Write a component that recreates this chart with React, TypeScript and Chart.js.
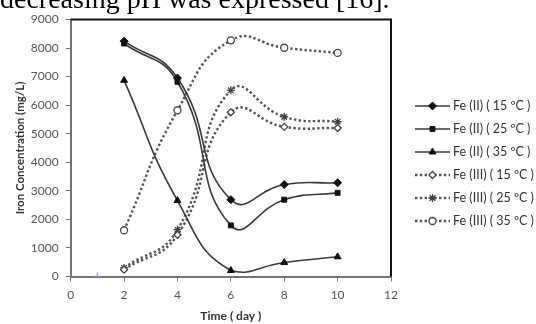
import React, { useEffect, useRef } from 'react';
import { Chart, registerables } from 'chart.js';
import { drawPoint } from 'chart.js/helpers';

Chart.register(...registerables);

// ---- data ----
const days = [2, 4, 6, 8, 10];
const fe2_15 = [8240, 6950, 2690, 3220, 3280];
const fe2_25 = [8160, 6820, 1790, 2690, 2930];
const fe2_35 = [6870, 2660, 210, 490, 690];
const fe3_15 = [240, 1460, 5750, 5240, 5200];
const fe3_25 = [300, 1640, 6520, 5590, 5420];
const fe3_35 = [1620, 5820, 8270, 8010, 7830];
const seriesLabels = [
  'Fe (II) ( 15 ºC )',
  'Fe (II) ( 25 ºC )',
  'Fe (II) ( 35 ºC )',
  'Fe (III) ( 15 ºC )',
  'Fe (III) ( 25 ºC )',
  'Fe (III) ( 35 ºC )',
];
const xTitle = 'Time ( day )';
const yTitle = 'Iron Concentration (mg/L)';
const headerText = 'decreasing pH was expressed [16].';
const blueMarkX = [1];
const blueMarkY = [0];

const FONT = 'Lato, "Open Sans", sans-serif';

const toPts = (vals: number[]) => vals.map((v, i) => ({ x: days[i], y: v }));

const legendPlugin = {
  id: 'customLegend',
  afterDraw(chart: any) {
    const { ctx, chartArea } = chart;
    ctx.save();
    let row = 0;
    chart.data.datasets.forEach((ds: any) => {
      if (ds.hideInLegend) return;
      const y = 106 + row * 23;
      row++;
      const x0 = chartArea.right + 24;
      const x1 = x0 + 35;
      ctx.strokeStyle = ds.borderColor;
      ctx.lineWidth = ds.borderWidth;
      ctx.setLineDash(ds.borderDash || []);
      ctx.beginPath();
      ctx.moveTo(x0, y);
      ctx.lineTo(x1, y);
      ctx.stroke();
      ctx.setLineDash([]);
      ctx.fillStyle = ds.pointBackgroundColor;
      ctx.strokeStyle = ds.pointBorderColor;
      ctx.lineWidth = ds.pointBorderWidth;
      drawPoint(ctx, {
        pointStyle: ds.pointStyle,
        radius: ds.pointRadius,
        rotation: 0,
        borderWidth: ds.pointBorderWidth,
      } as any, (x0 + x1) / 2, y);
      ctx.font = '12.5px ' + FONT;
      ctx.fillStyle = '#333';
      ctx.textAlign = 'left';
      ctx.textBaseline = 'middle';
      ctx.fillText(ds.label, x1 + 3, y);
    });
    ctx.restore();
  },
};

const framePlugin = {
  id: 'frame',
  beforeDatasetsDraw(chart: any) {
    const { ctx, chartArea } = chart;
    ctx.save();
    ctx.strokeStyle = '#111';
    ctx.lineWidth = 2;
    ctx.beginPath();
    ctx.moveTo(chartArea.left, chartArea.top);
    ctx.lineTo(chartArea.right, chartArea.top);
    ctx.lineTo(chartArea.right, chartArea.bottom);
    ctx.stroke();
    ctx.restore();
  },
};

export default function App() {
  const ref = useRef<HTMLCanvasElement | null>(null);

  useEffect(() => {
    if (!ref.current) return;
    const solid = (label: string, vals: number[], style: string, r: number) => ({
      label,
      data: toPts(vals),
      borderColor: '#3a3a3a',
      borderWidth: 1.6,
      pointStyle: style,
      pointRadius: r,
      pointBackgroundColor: '#111',
      pointBorderColor: '#111',
      pointBorderWidth: 1,
      tension: 0.5,
      fill: false,
    });
    const dotted = (label: string, vals: number[], style: string, r: number, bg: string) => ({
      label,
      data: toPts(vals),
      borderColor: '#555',
      borderWidth: 2.4,
      borderDash: [2.4, 2.4],
      pointStyle: style,
      pointRadius: r,
      pointBackgroundColor: bg,
      pointBorderColor: '#444',
      pointBorderWidth: 1.3,
      tension: 0.5,
      fill: false,
    });
    const chart = new Chart(ref.current, {
      type: 'line',
      data: {
        datasets: [
          solid(seriesLabels[0], fe2_15, 'rectRot', 4),
          solid(seriesLabels[1], fe2_25, 'rect', 3.5),
          solid(seriesLabels[2], fe2_35, 'triangle', 4),
          dotted(seriesLabels[3], fe3_15, 'rectRot', 3.5, '#fff'),
          dotted(seriesLabels[4], fe3_25, 'star', 4, '#fff'),
          dotted(seriesLabels[5], fe3_35, 'circle', 3.5, '#fff'),
          {
            label: 'mark',
            hideInLegend: true,
            data: blueMarkX.map((x, i) => ({ x, y: blueMarkY[i] })),
            showLine: false,
            pointStyle: 'cross',
            pointRadius: 4,
            pointBorderColor: '#8fb0e0',
            pointBorderWidth: 1.5,
            borderColor: '#8fb0e0',
          } as any,
        ] as any,
      },
      options: {
        animation: false,
        responsive: false,
        layout: { padding: { left: 0, right: 145, top: 19.5, bottom: 0 } },
        plugins: { legend: { display: false }, tooltip: { enabled: false } },
        elements: { point: { hoverRadius: 4 } },
        scales: {
          x: {
            type: 'linear',
            min: 0,
            max: 12,
            ticks: { stepSize: 2, font: { family: FONT, size: 12 }, color: '#555', padding: 6 },
            grid: { drawOnChartArea: false, drawTicks: true, tickLength: 5, tickColor: '#7a707a' },
            border: { display: true, color: '#7a707a', width: 2 },
            title: {
              display: true,
              text: xTitle,
              font: { family: FONT, size: 12, weight: 'bold' },
              color: '#333',
              padding: { top: 0, bottom: 1 },
            },
            afterFit: (s: any) => { s.height = 47.5; },
          },
          y: {
            min: 0,
            max: 9000,
            ticks: {
              stepSize: 1000,
              font: { family: FONT, size: 12 },
              color: '#555',
              padding: 7,
              callback: (v: any) => String(v),
            },
            grid: { drawOnChartArea: false, drawTicks: true, tickLength: 5, tickColor: '#7a707a' },
            border: { display: true, color: '#7a707a', width: 2 },
            title: {
              display: true,
              text: yTitle,
              font: { family: FONT, size: 11.5, weight: 'bold' },
              color: '#333',
              padding: { top: 13.5, bottom: 0 },
            },
            afterFit: (s: any) => { s.width = 70.7; },
          },
        },
      } as any,
      plugins: [framePlugin, legendPlugin],
    });
    return () => chart.destroy();
  }, []);

  return (
    <div style={{ position: 'fixed', left: 0, top: 0, width: 536, height: 324, overflow: 'hidden', background: '#fff' }}>
      <canvas ref={ref} width={536} height={324} style={{ position: 'absolute', left: 0, top: 0 }} />
      <div
        style={{
          position: 'absolute',
          left: 0,
          top: -15.5,
          fontFamily: '"Liberation Serif", "Times New Roman", serif',
          fontSize: 28,
          lineHeight: '28px',
          whiteSpace: 'nowrap',
          color: '#000',
        }}
      >
        {headerText}
      </div>
    </div>
  );
}
